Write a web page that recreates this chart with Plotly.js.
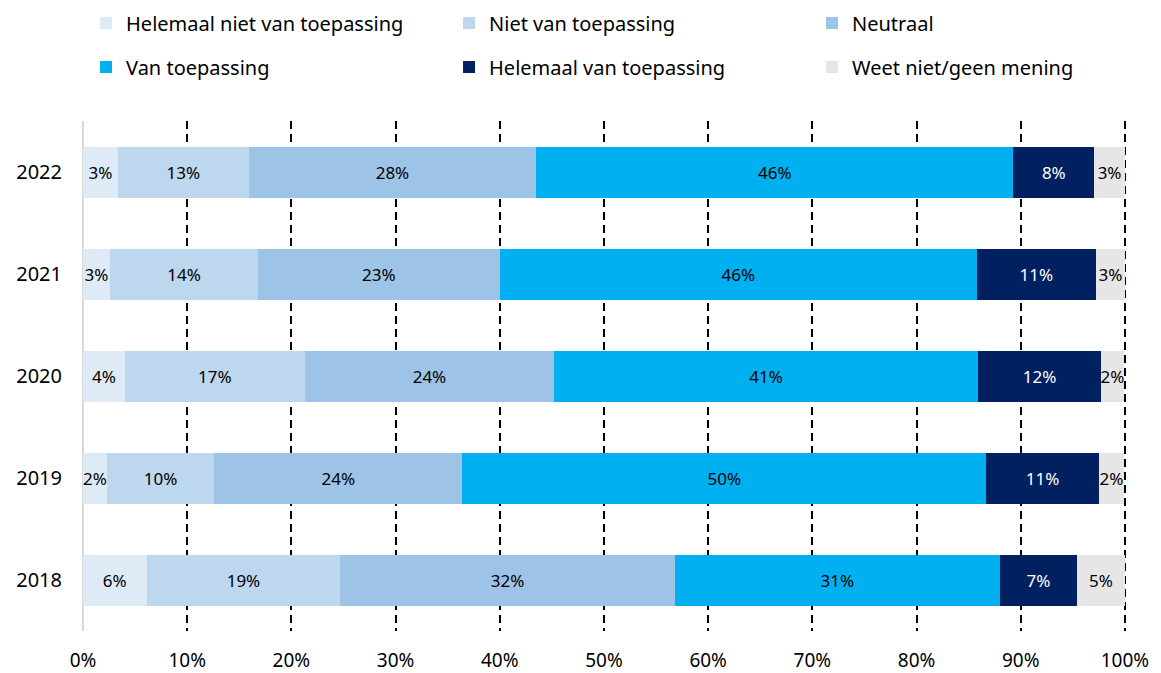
<!DOCTYPE html>
<html>
<head>
<meta charset="utf-8">
<script src="https://cdn.plot.ly/plotly-3.0.1.min.js"></script>
<style>html,body{margin:0;padding:0;background:#fff;}#chart{width:1161px;height:673px;}</style>
</head>
<body>
<div id="chart"></div>
<script>
// Years (bottom to top as drawn)
const years = ['2018', '2019', '2020', '2021', '2022'];

// Series values (percent), in year order 2018..2022
const helemaalNiet = [6.1, 2.3, 4.0, 2.6, 3.35];
const niet         = [18.6, 10.3, 17.3, 14.2, 12.55];
const neutraal     = [32.1, 23.8, 23.9, 23.2, 27.6];
const van          = [31.2, 50.3, 40.7, 45.8, 45.8];
const helemaalVan  = [7.4, 10.8, 11.8, 11.4, 7.75];
const weetNiet     = [4.6, 2.4, 2.2, 2.8, 2.95];

const seriesNames = ['Helemaal niet van toepassing', 'Niet van toepassing', 'Neutraal',
                     'Van toepassing', 'Helemaal van toepassing', 'Weet niet/geen mening'];
const seriesValues = [helemaalNiet, niet, neutraal, van, helemaalVan, weetNiet];
const seriesColors = ['#DEEBF7', '#BDD7EE', '#9DC3E6', '#00B0F0', '#002060', '#E7E6E6'];
const textColors   = ['#000', '#000', '#000', '#000', '#fff', '#000'];

const xTicks = [0, 10, 20, 30, 40, 50, 60, 70, 80, 90, 100];
const xTickLabels = ['0%', '10%', '20%', '30%', '40%', '50%', '60%', '70%', '80%', '90%', '100%'];

const FONT = 'Noto Sans, sans-serif';

const legendIds = ['legend', 'legend2', 'legend3', 'legend4', 'legend5', 'legend6'];

const traces = seriesNames.map((name, i) => ({
  type: 'bar',
  orientation: 'h',
  name: name,
  y: years,
  x: seriesValues[i],
  marker: {color: seriesColors[i], line: {width: 0}},
  texttemplate: '%{x:.0f}%',
  textposition: 'inside',
  insidetextanchor: 'middle',
  textangle: 0,
  constraintext: 'none',
  textfont: {family: FONT, size: 17, color: textColors[i]},
  hoverinfo: 'skip',
  cliponaxis: false,
  legend: legendIds[i]
}));

// Legend grid: 3 columns x 2 rows (one legend per entry)
const legendColX = [0.0029, 0.3506, 0.6983];
const legendRowY = [1.192, 1.106];

const layout = {
  width: 1161,
  height: 673,
  margin: {l: 83, r: 34, t: 121, b: 42, autoexpand: false},
  paper_bgcolor: '#fff',
  plot_bgcolor: '#fff',
  barmode: 'stack',
  bargap: 0.5,
  showlegend: true,
  font: {family: FONT, size: 18, color: '#000'},
  xaxis: {
    range: [0, 100.2],
    tickvals: xTicks,
    ticktext: xTickLabels,
    showgrid: true,
    gridcolor: '#000',
    gridwidth: 2,
    griddash: '8px,5px',
    zeroline: true,
    zerolinecolor: '#D9D9D9',
    zerolinewidth: 2,
    showline: false,
    ticks: '',
    ticklabelstandoff: 16,
    tickfont: {family: FONT, size: 19, color: '#000'},
    fixedrange: true
  },
  yaxis: {
    type: 'category',
    categoryorder: 'array',
    categoryarray: years,
    showgrid: false,
    zeroline: false,
    showline: false,
    ticks: '',
    ticklabelstandoff: 20,
    tickfont: {family: FONT, size: 20, color: '#000'},
    fixedrange: true
  }
};

legendIds.forEach((id, i) => {
  layout[id] = {
    orientation: 'h',
    xanchor: 'left',
    yanchor: 'middle',
    x: legendColX[i % 3],
    y: legendRowY[Math.floor(i / 3)],
    font: {family: FONT, size: 20, color: '#000'},
    bgcolor: 'rgba(0,0,0,0)',
    borderwidth: 0,
    itemclick: false,
    itemdoubleclick: false
  };
});

Plotly.newPlot('chart', traces, layout, {displayModeBar: false, staticPlot: true});
</script>
</body>
</html>
